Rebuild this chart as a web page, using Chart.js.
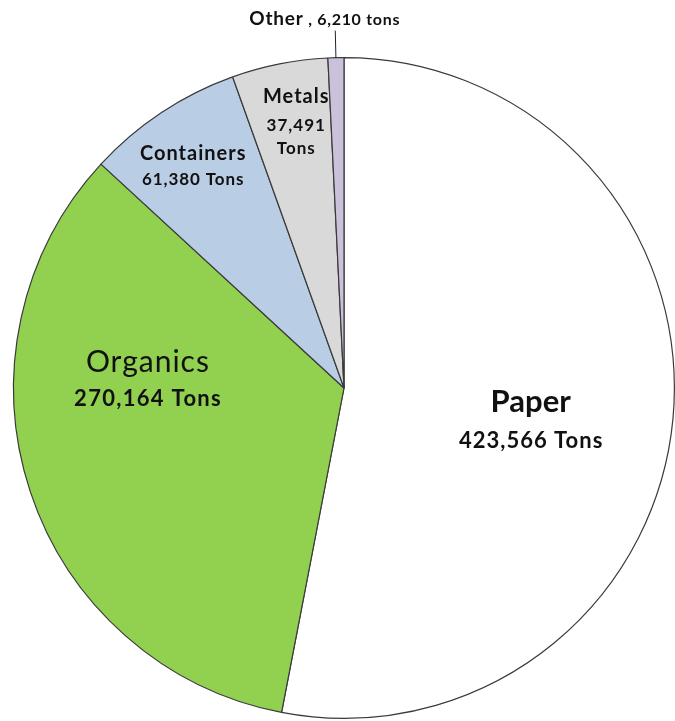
<!DOCTYPE html>
<html>
<head>
<meta charset="utf-8">
<script src="https://cdn.jsdelivr.net/npm/chart.js@4/dist/chart.umd.min.js"></script>
<style>
  html, body { margin: 0; padding: 0; background: #fff; }
  #wrap { width: 675px; height: 721px; }
</style>
</head>
<body>
<div id="wrap"><canvas id="pie" width="675" height="721"></canvas></div>
<script>
const categories = ["Paper", "Organics", "Containers", "Metals", "Other"];
const tons = [423566, 270164, 61380, 37491, 6210];
const colors = ["#FFFFFF", "#92D050", "#B9CDE5", "#D9D9D9", "#CCC1DA"];

const fmt = (v) => v.toLocaleString("en-US");

// label anchor as a fraction of the radius from the centre; each line: text, font, letter spacing, baseline offset
const labelSpots = [
    { dx: 0.565, dy: 0.0725, lines: [
        [categories[0], "bold 31px Lato", 0, 0],
        [fmt(tons[0]) + " Tons", "bold 22px Lato", 1, 36]] },
    { dx: -0.595, dy: -0.048, lines: [
        [categories[1], "30px Lato", 1, 0],
        [fmt(tons[1]) + " Tons", "bold 22px Lato", 1.3, 34]] },
    { dx: -0.458, dy: -0.690, lines: [
        [categories[2], "bold 20px Lato", 1, 0],
        [fmt(tons[2]) + " Tons", "bold 17px Lato", 0.9, 25]] },
    { dx: -0.146, dy: -0.864, lines: [
        [categories[3], "bold 20px Lato", 1, 0],
        [fmt(tons[3]), "bold 17px Lato", 1, 28],
        ["Tons", "bold 17px Lato", 1, 51]] },
];

const pieLabels = {
    id: "pieLabels",
    afterDraw(chart) {
        const ctx = chart.ctx;
        const arcs = chart.getDatasetMeta(0).data;
        const cx = arcs[0].x, cy = arcs[0].y, r = arcs[0].outerRadius;
        ctx.save();
        ctx.fillStyle = "#111";
        ctx.textAlign = "center";
        ctx.textBaseline = "alphabetic";
        labelSpots.forEach((s) => {
            const x = cx + s.dx * r, y = cy + s.dy * r;
            s.lines.forEach(([txt, font, sp, off]) => {
                ctx.font = font;
                ctx.letterSpacing = sp + "px";
                ctx.fillText(txt, x + sp / 2, y + off);
            });
        });

        // "Other" sits outside with a leader line
        const o = arcs[4];
        const mid = (o.startAngle + o.endAngle) / 2;
        const x0 = cx + Math.cos(mid) * r, y0 = cy + Math.sin(mid) * r;
        const x1 = cx + Math.cos(mid) * r * 1.082, y1 = cy + Math.sin(mid) * r * 1.082;
        ctx.strokeStyle = "#222";
        ctx.lineWidth = 1;
        ctx.beginPath();
        ctx.moveTo(x0, y0);
        ctx.lineTo(x1, y1);
        ctx.stroke();

        ctx.textAlign = "left";
        const tx = x1 - 86;
        const ty = cy - r * 1.0997;
        ctx.font = "bold 19px Lato";
        ctx.letterSpacing = "0.8px";
        ctx.fillText(categories[4], tx, ty);
        const wa = ctx.measureText(categories[4]).width;
        ctx.font = "bold 16px Lato";
        ctx.letterSpacing = "0.7px";
        ctx.fillText(" , " + fmt(tons[4]) + " tons", tx + wa, ty);
        ctx.restore();
    }
};

new Chart(document.getElementById("pie"), {
    type: "pie",
    data: {
        labels: categories,
        datasets: [{
            data: tons,
            backgroundColor: colors,
            borderColor: "#3a3a3a",
            borderWidth: 1.2,
        }],
    },
    options: {
        responsive: false,
        animation: false,
        layout: { padding: { left: 13, right: 0, top: 57, bottom: 2 } },
        plugins: {
            legend: { display: false },
            tooltip: { enabled: false },
        },
    },
    plugins: [pieLabels],
});
</script>
</body>
</html>
